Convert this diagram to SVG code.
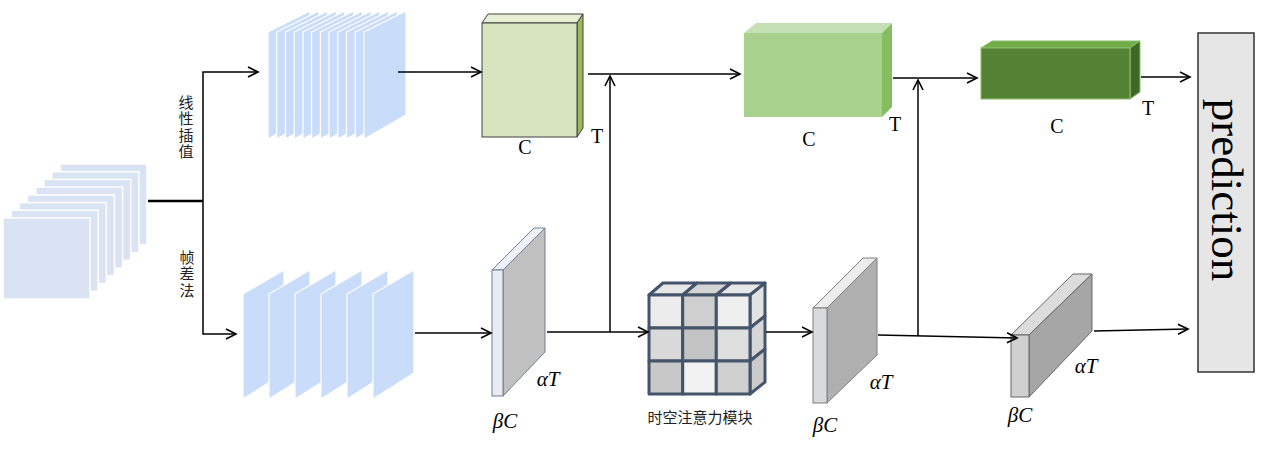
<svg xmlns="http://www.w3.org/2000/svg" width="1268" height="453" viewBox="0 0 1268 453">
<defs>
<marker id="arr" markerUnits="userSpaceOnUse" markerWidth="14" markerHeight="14" refX="11" refY="6" orient="auto">
<path d="M1,1 L11,6 L1,11" fill="none" stroke="#000" stroke-width="1.6"/>
</marker>
<style>
.ln{fill:none;stroke:#000;stroke-width:1.5}
.fr{fill:#dae3f3;stroke:#fff;stroke-width:1.5}
.pf{fill:#c9dcfa;stroke:#fff;stroke-width:1.2}
.lbl{font-family:"Liberation Serif","Times New Roman",serif;font-size:20px;fill:#000;text-anchor:middle}
.math{font-family:"Liberation Serif","Times New Roman",serif;font-style:italic;font-size:21px;fill:#000;text-anchor:middle}
.cjk{font-family:"Noto Sans CJK SC","Noto Sans",sans-serif;font-size:15px;fill:#222;text-anchor:middle}
.vcjk{font-family:"Noto Sans CJK SC","Noto Sans",sans-serif;font-size:15px;fill:#222;writing-mode:vertical-rl;letter-spacing:1.3px}
.cell{stroke:#44546a;stroke-width:3;stroke-linejoin:round}
</style>
</defs>
<rect width="1268" height="453" fill="#fff"/>

<g id="input-stack">
<rect class="fr" x="60" y="164" width="87" height="81"/>
<rect class="fr" x="51.9" y="171.7" width="87" height="81"/>
<rect class="fr" x="43.7" y="179.4" width="87" height="81"/>
<rect class="fr" x="35.6" y="187.1" width="87" height="81"/>
<rect class="fr" x="27.4" y="194.9" width="87" height="81"/>
<rect class="fr" x="19.3" y="202.6" width="87" height="81"/>
<rect class="fr" x="11.1" y="210.3" width="87" height="81"/>
<rect class="fr" x="3" y="218" width="87" height="81"/>
</g>

<g id="interp-frames">
<polygon class="pf" points="268,32 310,11 310,115 268,139"/>
<polygon class="pf" points="276.7,32 318.7,11 318.7,115 276.7,139"/>
<polygon class="pf" points="285.5,32 327.5,11 327.5,115 285.5,139"/>
<polygon class="pf" points="294.2,32 336.2,11 336.2,115 294.2,139"/>
<polygon class="pf" points="302.9,32 344.9,11 344.9,115 302.9,139"/>
<polygon class="pf" points="311.6,32 353.6,11 353.6,115 311.6,139"/>
<polygon class="pf" points="320.4,32 362.4,11 362.4,115 320.4,139"/>
<polygon class="pf" points="329.1,32 371.1,11 371.1,115 329.1,139"/>
<polygon class="pf" points="337.8,32 379.8,11 379.8,115 337.8,139"/>
<polygon class="pf" points="346.5,32 388.5,11 388.5,115 346.5,139"/>
<polygon class="pf" points="355.3,32 397.3,11 397.3,115 355.3,139"/>
<polygon class="pf" points="364,32 406,11 406,115 364,139"/>
</g>

<g id="diff-frames">
<polygon class="pf" points="243,294 284,270 284,373 243,399"/>
<polygon class="pf" points="269,294 310,270 310,373 269,399"/>
<polygon class="pf" points="295,294 336,270 336,373 295,399"/>
<polygon class="pf" points="321,294 362,270 362,373 321,399"/>
<polygon class="pf" points="347,294 388,270 388,373 347,399"/>
<polygon class="pf" points="373,294 414,270 414,373 373,399"/>
</g>

<g id="feat1">
<polygon points="482,23 488,14 583,14 577,23" fill="#e6eed6" stroke="#404040" stroke-width="1"/>
<polygon points="577,23 583,14 583,128 577,137" fill="#9bbb59" stroke="#404040" stroke-width="1"/>
<rect x="482" y="23" width="95" height="114" fill="#d7e4bd" stroke="#404040" stroke-width="1"/>
<text class="lbl" x="525" y="154">C</text>
<text class="lbl" x="597" y="143">T</text>
</g>

<g id="feat2">
<polygon points="744,33 756,23 892,23 882,33" fill="#c5e0b4"/>
<polygon points="882,33 892,23 892,107 882,117" fill="#86bd62"/>
<rect x="744" y="33" width="138" height="84" fill="#a9d18e"/>
<text class="lbl" x="809" y="146">C</text>
<text class="lbl" x="895" y="131">T</text>
</g>

<g id="feat3">
<polygon points="981,48 992,41 1140,41 1130,48" fill="#70ad47" stroke="#8cbf6c" stroke-width="1"/>
<polygon points="1130,48 1140,41 1140,92 1130,99" fill="#3f6827" stroke="#8cbf6c" stroke-width="1"/>
<rect x="981" y="48" width="149" height="51" fill="#548235" stroke="#8cbf6c" stroke-width="1"/>
<text class="lbl" x="1057" y="133">C</text>
<text class="lbl" x="1148" y="115">T</text>
</g>

<g id="slab1">
<polygon points="492,270 534,228 545,228 503,270" fill="#eef2f7" stroke="#6d7f94" stroke-width="1"/>
<polygon points="503,270 545,228 545,352 503,396" fill="#c0c0c0" stroke="#6d7f94" stroke-width="1"/>
<rect x="492" y="270" width="11" height="126" fill="#e8ebef" stroke="#6d7f94" stroke-width="1"/>
<text class="math" x="548" y="386">αT</text>
<text class="math" x="505" y="428">βC</text>
</g>

<g id="attention">
<g class="cell">
<polygon points="649,295 663,283 697,283 682.7,295" fill="#e8e8e8"/>
<polygon points="682.7,295 697,283 731,283 716.3,295" fill="#d4d4d4"/>
<polygon points="716.3,295 731,283 765,283 750,295" fill="#e8e8e8"/>
<polygon points="750,295 765,283 765,316 750,328" fill="#e2e2e2"/>
<polygon points="750,328 765,316 765,349 750,361" fill="#d6d6d6"/>
<polygon points="750,361 765,349 765,382 750,394" fill="#cbcbcb"/>
<rect x="649" y="295" width="33.7" height="33" fill="#ececec"/>
<rect x="682.7" y="295" width="33.6" height="33" fill="#cfcfcf"/>
<rect x="716.3" y="295" width="33.7" height="33" fill="#efefef"/>
<rect x="649" y="328" width="33.7" height="33" fill="#d9d9d9"/>
<rect x="682.7" y="328" width="33.6" height="33" fill="#c3c3c3"/>
<rect x="716.3" y="328" width="33.7" height="33" fill="#dedede"/>
<rect x="649" y="361" width="33.7" height="33" fill="#c8c8c8"/>
<rect x="682.7" y="361" width="33.6" height="33" fill="#f2f2f2"/>
<rect x="716.3" y="361" width="33.7" height="33" fill="#cfcfcf"/>
</g>
<text class="cjk" x="700" y="423">时空注意力模块</text>
</g>

<g id="slab2">
<polygon points="813,308 863,258 877,258 827,308" fill="#ececec" stroke="#7f7f7f" stroke-width="1"/>
<polygon points="827,308 877,258 877,355 827,403" fill="#b0b0b0" stroke="#7f7f7f" stroke-width="1"/>
<rect x="813" y="308" width="14" height="95" fill="#d9dadc" stroke="#7f7f7f" stroke-width="1"/>
<text class="math" x="881" y="389">αT</text>
<text class="math" x="825" y="432">βC</text>
</g>

<g id="slab3">
<polygon points="1011,335 1073,274 1092,274 1029,335" fill="#dcdcdc" stroke="#666" stroke-width="1"/>
<polygon points="1029,335 1092,274 1092,331 1029,397" fill="#a6a6a6" stroke="#666" stroke-width="1"/>
<rect x="1011" y="335" width="18" height="62" fill="#d0d0d0" stroke="#666" stroke-width="1"/>
<text class="math" x="1086" y="373">αT</text>
<text class="math" x="1020" y="422">βC</text>
</g>

<g id="prediction">
<rect x="1198" y="33" width="56" height="339" fill="#e7e6e6" stroke="#333" stroke-width="1.5"/>
<text transform="translate(1212,190) rotate(90)" font-family="'Liberation Serif','Times New Roman',serif" font-size="45" text-anchor="middle" fill="#000">prediction</text>
</g>

<g id="branch-labels">
<text class="vcjk" x="186" y="95">线性插值</text>
<text class="vcjk" x="187" y="250">帧差法</text>
</g>

<g id="connectors">
<path d="M148,201 H203" fill="none" stroke="#000" stroke-width="2.5"/>
<path class="ln" d="M203,201 V72 H258" marker-end="url(#arr)"/>
<path class="ln" d="M203,201 V334 H236" marker-end="url(#arr)"/>
<path class="ln" d="M398,72 H481" marker-end="url(#arr)"/>
<path class="ln" d="M588,74 H740" marker-end="url(#arr)"/>
<path class="ln" d="M610,332 V76" marker-end="url(#arr)"/>
<path class="ln" d="M415,333 H491" marker-end="url(#arr)"/>
<path class="ln" d="M547,332 H648" marker-end="url(#arr)"/>
<path class="ln" d="M766,332 H812" marker-end="url(#arr)"/>
<path class="ln" d="M893,78 H977" marker-end="url(#arr)"/>
<path class="ln" d="M918,336 V80" marker-end="url(#arr)"/>
<path class="ln" d="M878,335 L1017,338" marker-end="url(#arr)"/>
<path class="ln" d="M1141,77 H1190" marker-end="url(#arr)"/>
<path class="ln" d="M1094,331 L1188,329" marker-end="url(#arr)"/>
</g>
</svg>
